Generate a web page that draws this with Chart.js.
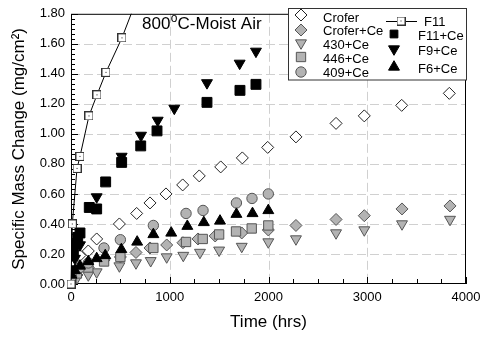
<!DOCTYPE html>
<html>
<head>
<meta charset="utf-8">
<script src="https://cdn.jsdelivr.net/npm/chart.js@4.4.0/dist/chart.umd.min.js"></script>
<style>
  html, body { margin: 0; padding: 0; background: #fff; }
</style>
</head>
<body>
<canvas id="massChart" width="488" height="337"></canvas>
<script>
// tick values
const xTickValues = [0, 1000, 2000, 3000, 4000];
const yTickValues = [0, 0.2, 0.4, 0.6, 0.8, 1.0, 1.2, 1.4, 1.6, 1.8];

// [time (hrs), mass change (mg/cm2)]
const crofer = [[5,0.05],[40,0.13],[90,0.19],[175,0.22],[260,0.30],[490,0.40],[665,0.47],[800,0.54],[962,0.60],[1131,0.66],[1299,0.72],[1516,0.78],[1735,0.84],[1992,0.91],[2278,0.98],[2684,1.07],[2970,1.12],[3349,1.19],[3831,1.27]];
const croferCe = [[5,0.02],[60,0.06],[175,0.11],[335,0.16],[500,0.18],[658,0.21],[800,0.24],[969,0.26],[1134,0.275],[1286,0.30],[1460,0.32],[1729,0.34],[1998,0.36],[2278,0.39],[2684,0.43],[2970,0.455],[3352,0.50],[3838,0.52]];
const ce430 = [[5,0.01],[60,0.04],[175,0.06],[260,0.08],[490,0.12],[658,0.14],[807,0.155],[969,0.18],[1137,0.19],[1306,0.21],[1500,0.225],[1729,0.25],[1998,0.28],[2278,0.30],[2684,0.34],[2970,0.36],[3352,0.40],[3838,0.43]];
const ce446 = [[5,0.03],[60,0.07],[175,0.11],[335,0.15],[500,0.18],[834,0.24],[1165,0.28],[1334,0.30],[1500,0.33],[1671,0.35],[1830,0.37],[1998,0.39]];
const ce409 = [[5,0.05],[90,0.11],[175,0.14],[334,0.24],[500,0.295],[834,0.39],[1165,0.47],[1337,0.49],[1675,0.54],[1833,0.57],[1998,0.60]];
const f11 = [[0,0.00],[13,0.40],[61,0.77],[91,0.85],[182,1.12],[263,1.26],[354,1.41],[516,1.64],[680,1.92]];
const f11Ce = [[5,0.19],[24,0.22],[40,0.27],[68,0.31],[91,0.34],[185,0.51],[260,0.50],[351,0.68],[513,0.81],[706,0.92],[871,1.02],[1377,1.21],[1711,1.29],[1873,1.33]];
const f9Ce = [[10,0.10],[40,0.17],[91,0.26],[260,0.58],[513,0.85],[709,0.99],[878,1.09],[1046,1.17],[1377,1.34],[1708,1.47],[1873,1.55]];
const f6Ce = [[5,0.06],[40,0.09],[91,0.12],[175,0.15],[260,0.17],[347,0.19],[510,0.23],[670,0.28],[834,0.33],[1015,0.34],[1178,0.385],[1345,0.41],[1509,0.42],[1675,0.465],[1838,0.47],[1998,0.49]];

const FONT = 'Liberation Sans, Arial, Helvetica, sans-serif';
const GRAY = '#b3b3b3';
const EDGE = '#555';

// open square with a dot in the middle (F11)
function dotSquare() {
  const c = document.createElement('canvas');
  c.width = 9; c.height = 9;
  const g = c.getContext('2d');
  g.fillStyle = '#fff';
  g.fillRect(0, 0, 9, 9);
  g.strokeStyle = '#333';
  g.lineWidth = 1;
  g.strokeRect(0.5, 0.5, 8, 8);
  g.fillStyle = '#222';
  g.fillRect(4, 4, 1, 1);
  return c;
}

function series(label, pts, style, order) {
  return Object.assign({
    label: label,
    data: pts.map(p => ({ x: p[0], y: p[1] })),
    showLine: false,
    order: order,
    pointBorderWidth: 1
  }, style);
}

const datasets = [
  series('Crofer', crofer, { pointStyle: 'rectRot', pointRadius: 6, pointBackgroundColor: '#fff', pointBorderColor: '#222' }, 9),
  series('Crofer+Ce', croferCe, { pointStyle: 'rectRot', pointRadius: 6, pointBackgroundColor: GRAY, pointBorderColor: EDGE }, 8),
  series('430+Ce', ce430, { pointStyle: 'triangle', pointRotation: 180, pointRadius: 6.3, pointBackgroundColor: GRAY, pointBorderColor: EDGE }, 7),
  series('446+Ce', ce446, { pointStyle: 'rect', pointRadius: 6.6, pointBackgroundColor: GRAY, pointBorderColor: EDGE }, 6),
  series('409+Ce', ce409, { pointStyle: 'circle', pointRadius: 5.2, pointBackgroundColor: GRAY, pointBorderColor: EDGE }, 5),
  series('F11', f11, { pointStyle: dotSquare(), pointRadius: 5, showLine: true, borderColor: '#000', borderWidth: 1, tension: 0, clip: { left: 10, bottom: 10, top: 0, right: 0 } }, 1),
  series('F11+Ce', f11Ce, { pointStyle: 'rect', pointRadius: 7, pointBackgroundColor: '#000', pointBorderColor: '#000' }, 3),
  series('F9+Ce', f9Ce, { pointStyle: 'triangle', pointRotation: 180, pointRadius: 6.3, pointBackgroundColor: '#000', pointBorderColor: '#000' }, 4),
  series('F6+Ce', f6Ce, { pointStyle: 'triangle', pointRadius: 6.3, pointBackgroundColor: '#000', pointBorderColor: '#000' }, 2)
];

// dashed grid, box and inward ticks
const framePlugin = {
  id: 'frame',
  beforeDatasetsDraw(chart) {
    const { ctx, chartArea: a, scales: { x, y } } = chart;
    ctx.save();
    ctx.lineWidth = 1;
    ctx.strokeStyle = '#d0d0d0';
    ctx.setLineDash([9, 4]);
    xTickValues.slice(1, -1).forEach(v => {
      const px = Math.round(x.getPixelForValue(v)) + 0.5;
      ctx.beginPath(); ctx.moveTo(px, a.top); ctx.lineTo(px, a.bottom); ctx.stroke();
    });
    yTickValues.slice(1, -1).forEach(v => {
      const py = Math.round(y.getPixelForValue(v)) + 0.5;
      ctx.beginPath(); ctx.moveTo(a.left, py); ctx.lineTo(a.right, py); ctx.stroke();
    });
    ctx.setLineDash([]);
    ctx.strokeStyle = '#000';
    ctx.strokeRect(a.left + 0.5, a.top + 0.5, a.right - a.left - 1, a.bottom - a.top - 1);
    ctx.beginPath();
    for (let v = 0; v <= 4000; v += 250) {
      const px = Math.round(x.getPixelForValue(v)) + 0.5;
      const len = v % 1000 === 0 ? 7 : 5;
      ctx.moveTo(px, a.bottom); ctx.lineTo(px, a.bottom - len);
    }
    for (let i = 0; i <= 54; i++) {
      const py = Math.round(y.getPixelForValue(i * 0.2 / 6)) + 0.5;
      const len = i % 6 === 0 ? 7 : 4;
      ctx.moveTo(a.left, py); ctx.lineTo(a.left + len, py);
    }
    ctx.stroke();
    ctx.restore();
  },
  afterDraw(chart) {
    const ctx = chart.ctx;
    ctx.save();
    // annotation
    ctx.fillStyle = '#000';
    ctx.textBaseline = 'alphabetic';
    ctx.font = '17px ' + FONT;
    let tx = 142;
    ctx.fillText('800', tx, 28.5);
    tx += ctx.measureText('800').width + 0.5;
    ctx.font = '12px ' + FONT;
    ctx.fillText('o', tx, 22);
    tx += ctx.measureText('o').width;
    ctx.font = '17px ' + FONT;
    ctx.fillText('C-Moist Air', tx, 28.5);

    // legend box
    ctx.fillStyle = '#fff';
    ctx.fillRect(288.5, 8.5, 178, 71.5);
    ctx.strokeStyle = '#333';
    ctx.lineWidth = 1;
    ctx.strokeRect(288.5, 8.5, 178, 71.5);

    const slots = {
      'Crofer': [301, 15, 323, 17],
      'Crofer+Ce': [301, 30, 323, 30.5],
      '430+Ce': [301, 43, 323, 44],
      '446+Ce': [301, 57, 323, 58],
      '409+Ce': [301, 72, 323, 72.5],
      'F11': [401, 21, 424, 21],
      'F11+Ce': [394, 34, 418, 35],
      'F9+Ce': [394, 49, 418, 50],
      'F6+Ce': [394, 67, 418, 68]
    };
    ctx.font = '13px ' + FONT;
    chart.data.datasets.forEach(ds => {
      const s = slots[ds.label];
      if (ds.showLine) {
        ctx.strokeStyle = '#000';
        ctx.beginPath(); ctx.moveTo(386, s[1] + 0.5); ctx.lineTo(417, s[1] + 0.5); ctx.stroke();
      }
      ctx.fillStyle = ds.pointBackgroundColor || '#fff';
      ctx.strokeStyle = ds.pointBorderColor || '#000';
      ctx.lineWidth = 1;
      Chart.helpers.drawPoint(ctx, {
        pointStyle: ds.pointStyle,
        radius: ds.label === 'F11+Ce' ? 5.5 : ds.pointRadius,
        rotation: ds.pointRotation || 0,
        borderWidth: 1
      }, s[0], s[1]);
      ctx.fillStyle = '#000';
      ctx.fillText(ds.label, s[2], s[3] + 4.7);
    });
    ctx.restore();
  }
};

Chart.defaults.font.family = FONT;
Chart.defaults.color = '#000';

new Chart(document.getElementById('massChart').getContext('2d'), {
  type: 'scatter',
  data: { datasets: datasets },
  options: {
    responsive: false,
    animation: false,
    events: [],
    layout: { padding: { top: 8, right: 22, left: 0, bottom: 0 } },
    plugins: { legend: { display: false }, tooltip: { enabled: false } },
    scales: {
      x: {
        type: 'linear',
        min: 0, max: 4000,
        afterBuildTicks: s => { s.ticks = xTickValues.map(v => ({ value: v })); },
        afterFit: s => { s.height = 53; },
        grid: { display: false, drawTicks: false },
        border: { display: false },
        ticks: { padding: 6, maxRotation: 0, font: { size: 13 }, callback: v => String(v) },
        title: { display: true, text: 'Time (hrs)', font: { size: 17 }, padding: { top: 0, bottom: 4 } }
      },
      y: {
        type: 'linear',
        min: 0, max: 1.8,
        afterBuildTicks: s => { s.ticks = yTickValues.map(v => ({ value: v })); },
        afterFit: s => { s.width = 71; },
        grid: { display: false, drawTicks: false },
        border: { display: false },
        ticks: { padding: 6, font: { size: 13 }, callback: v => v.toFixed(2) },
        title: { display: true, text: 'Specific Mass Change (mg/cm²)', font: { size: 17 }, padding: { top: 9, bottom: 0 } }
      }
    }
  },
  plugins: [framePlugin]
});
</script>
</body>
</html>
